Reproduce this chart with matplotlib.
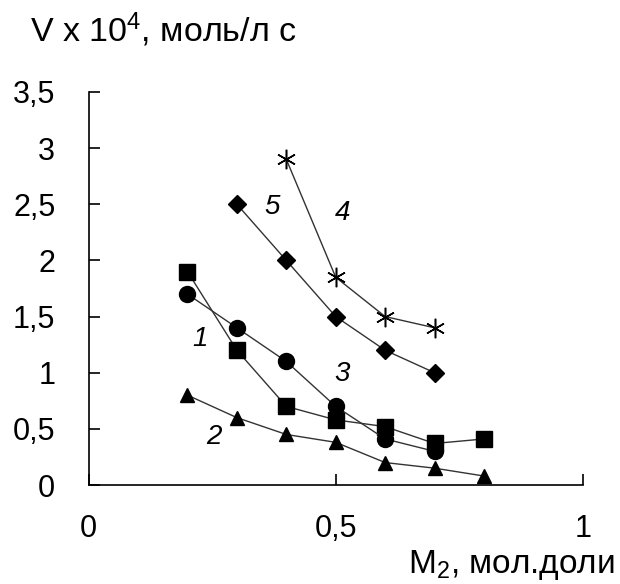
import matplotlib
matplotlib.use("Agg")
import matplotlib.pyplot as plt

plt.rcParams['font.family'] = ['Liberation Sans', 'DejaVu Sans']
plt.rcParams['mathtext.fontset'] = 'custom'
plt.rcParams['mathtext.rm'] = 'Liberation Sans'
plt.rcParams['mathtext.it'] = 'Liberation Sans:italic'
plt.rcParams['mathtext.bf'] = 'Liberation Sans:bold'

# --- data ---
x_sq = [0.2, 0.3, 0.4, 0.5, 0.6, 0.7, 0.8]
y_sq = [1.9, 1.2, 0.7, 0.58, 0.52, 0.37, 0.41]

x_tri = [0.2, 0.3, 0.4, 0.5, 0.6, 0.7, 0.8]
y_tri = [0.8, 0.6, 0.45, 0.38, 0.2, 0.15, 0.08]

x_circ = [0.2, 0.3, 0.4, 0.5, 0.6, 0.7]
y_circ = [1.7, 1.4, 1.1, 0.7, 0.41, 0.3]

x_star = [0.4, 0.5, 0.6, 0.7]
y_star = [2.9, 1.85, 1.5, 1.4]

x_dia = [0.3, 0.4, 0.5, 0.6, 0.7]
y_dia = [2.5, 2.0, 1.5, 1.2, 1.0]

curve_labels = ["1", "2", "3", "4", "5"]
label_x = [0.225, 0.253, 0.513, 0.513, 0.372]
label_y = [1.3, 0.43, 0.99, 2.42, 2.48]

xticks = [0, 0.5, 1]
xtick_labels = ["0", "0,5", "1"]
yticks = [0, 0.5, 1, 1.5, 2, 2.5, 3, 3.5]
ytick_labels = ["0", "0,5", "1", "1,5", "2", "2,5", "3", "3,5"]

fig = plt.figure(figsize=(6.2, 5.84), dpi=100)
ax = fig.add_axes([0.143, 0.1695, 0.797, 0.673])

line_kw = dict(color="#333333", linewidth=1.0, markerfacecolor="black",
               markeredgecolor="black")
ax.plot(x_sq, y_sq, marker="s", markersize=12, **line_kw)
ax.plot(x_tri, y_tri, marker="^", markersize=10, **line_kw)
ax.plot(x_circ, y_circ, marker="o", markersize=11.5, **line_kw)
ax.plot(x_dia, y_dia, marker="D", markersize=9, **line_kw)
ax.plot(x_star, y_star, marker=(6, 2, 0), markersize=14, markeredgewidth=1.1,
        color="#333333", linewidth=1.0, markeredgecolor="black")

for t, lx, ly in zip(curve_labels, label_x, label_y):
    ax.text(lx, ly, t, fontsize=20, style="italic", ha="center", va="center")

ax.set_xlim(0, 1)
ax.set_ylim(0, 3.5)
ax.set_xticks(xticks)
ax.set_xticklabels(xtick_labels)
ax.set_yticks(yticks)
ax.set_yticklabels(ytick_labels)
ax.tick_params(axis="both", direction="in", length=8, width=1.2,
               labelsize=22, color="black")
ax.tick_params(axis="x", pad=21)
ax.tick_params(axis="y", pad=24)
for s in ["top", "right"]:
    ax.spines[s].set_visible(False)
for s in ["left", "bottom"]:
    ax.spines[s].set_linewidth(1.2)

fig.text(0.048, 0.928, r"V x 10$^{4}$, моль/л с", fontsize=24.5, va="baseline")
fig.text(0.992, 0.019, r"M$_{2}$, мол.доли", fontsize=24, ha="right",
         va="baseline")

fig.savefig("out.png", dpi=100)
